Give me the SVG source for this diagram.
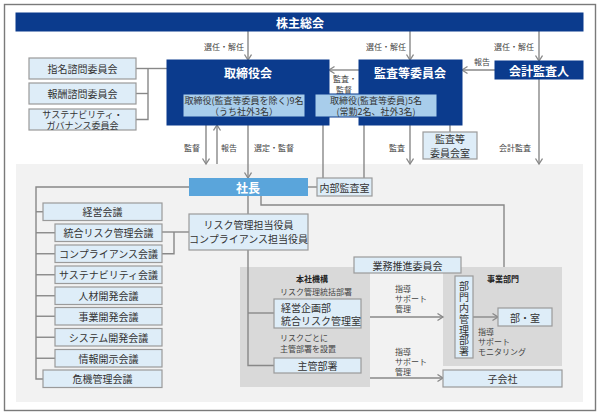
<svg xmlns="http://www.w3.org/2000/svg" width="600" height="415" viewBox="0 0 600 415">
<style>
text{font-family:"Noto Sans CJK JP","Noto Sans",sans-serif;fill:#333;dominant-baseline:central;text-anchor:middle}
.navy{fill:#0b3b8d;stroke:#0b3b8d}
.navyt{fill:#fff;font-weight:bold;font-size:12px}
.inner{fill:#a8cdeb;stroke:#0b3b8d;stroke-width:1}
.lb{fill:#deedf8;stroke:#9a9a9a;stroke-width:1.2}
.t10{font-size:10px}
.t9{font-size:9px}
.lab{font-size:8px;fill:#444}
.ll{text-anchor:start}
.ln{fill:none;stroke:#888;stroke-width:1.4}
.ar{fill:none;stroke:#888;stroke-width:1.4;marker-end:url(#ah)}
.vt{font-size:10px;writing-mode:vertical-rl;text-orientation:upright;dominant-baseline:auto;letter-spacing:0.8px}
</style>
<defs>
<marker id="ah" markerUnits="userSpaceOnUse" markerWidth="10" markerHeight="10" refX="6" refY="4" orient="auto">
<path d="M0.5,0.5 L6,4 L0.5,7.5" fill="none" stroke="#888" stroke-width="1.3"/>
</marker>
</defs>
<rect x="4.5" y="4.5" width="591" height="406" fill="#fff" stroke="#7a7a7a" stroke-width="1.4"/>
<rect x="16" y="164" width="567" height="238" fill="#f2f2f2"/>
<rect id="honsha-region" x="240" y="267" width="130" height="120" fill="#d9d9d9"/>
<rect id="jigyo-region" x="443" y="267" width="119" height="99" fill="#d9d9d9"/>

<g id="connectors">
<line class="ar" x1="248" y1="31" x2="248" y2="60"/>
<line class="ar" x1="410" y1="31" x2="410" y2="60"/>
<line class="ar" x1="539" y1="31" x2="539" y2="61"/>
<text class="lab" x="224" y="46">選任・解任</text>
<text class="lab" x="386" y="46">選任・解任</text>
<text class="lab" x="514" y="46">選任・解任</text>
<line class="ar" x1="495" y1="70" x2="462" y2="70"/>
<text class="lab" x="482" y="61">報告</text>
<line class="ar" x1="359" y1="70" x2="329" y2="70"/>
<text class="lab" x="345" y="78">監査・</text>
<text class="lab" x="344" y="89">監督</text>
<polyline class="ln" points="136,68.5 167,68.5"/>
<polyline class="ln" points="148,68.5 148,119.5 136,119.5"/>
<line class="ln" x1="136" y1="93.5" x2="148" y2="93.5"/>
<line class="ar" x1="206" y1="125" x2="206" y2="164"/>
<line class="ar" x1="217" y1="164" x2="217" y2="125"/>
<line class="ar" x1="248" y1="117" x2="248" y2="178"/>
<text class="lab" x="192" y="147">監督</text>
<text class="lab" x="229" y="147">報告</text>
<text class="lab" x="274" y="147">選定・監督</text>
<line class="ln" x1="323" y1="125" x2="323" y2="178"/>
<line class="ln" x1="364" y1="125" x2="364" y2="178"/>
<line class="ln" x1="308" y1="187" x2="317" y2="187"/>
<line class="ln" x1="450" y1="125" x2="450" y2="132"/>
<line class="ar" x1="410" y1="125" x2="410" y2="164"/>
<text class="lab" x="397" y="147">監査</text>
<line class="ar" x1="539" y1="79" x2="539" y2="164"/>
<text class="lab" x="515" y="147">会計監査</text>
<polyline class="ln" points="261,196 261,205 504,205 504,267"/>
<polyline class="ln" points="189,187 36,187 36,379 43,379"/>
<line class="ln" x1="36" y1="211.75" x2="43" y2="211.75"/>
<line class="ln" x1="36" y1="232.75" x2="55" y2="232.75"/>
<line class="ln" x1="36" y1="253.75" x2="55" y2="253.75"/>
<line class="ln" x1="36" y1="274.75" x2="55" y2="274.75"/>
<line class="ln" x1="36" y1="295.75" x2="55" y2="295.75"/>
<line class="ln" x1="36" y1="316.25" x2="55" y2="316.25"/>
<line class="ln" x1="36" y1="337.25" x2="55" y2="337.25"/>
<line class="ln" x1="36" y1="358.25" x2="55" y2="358.25"/>
<line class="ln" x1="162" y1="232" x2="189" y2="232"/>
<polyline class="ln" points="174,232 174,253.75 162,253.75"/>
<line class="ln" x1="248" y1="196" x2="248" y2="214"/>
<polyline class="ln" points="248,250 248,365.5 274,365.5"/>
<line class="ln" x1="248" y1="313" x2="274" y2="313"/>
<line class="ar" x1="370" y1="317" x2="443" y2="317"/>
<line class="ar" x1="370" y1="378" x2="443" y2="378"/>
<line class="ar" x1="473" y1="317" x2="498" y2="317"/>
<text class="lab ll" x="395" y="288">指導</text>
<text class="lab ll" x="395" y="298">サポート</text>
<text class="lab ll" x="395" y="308">管理</text>
<text class="lab ll" x="395" y="351">指導</text>
<text class="lab ll" x="395" y="361">サポート</text>
<text class="lab ll" x="395" y="371">管理</text>
<text class="lab ll" x="478" y="331">指導</text>
<text class="lab ll" x="478" y="341">サポート</text>
<text class="lab ll" x="478" y="351">モニタリング</text>
</g>

<g id="shareholders">
<rect class="navy" x="16" y="13" width="567" height="18"/>
<text class="navyt" x="300" y="22">株主総会</text>
</g>
<g id="board">
<rect class="navy" x="167" y="60" width="162" height="65"/>
<text class="navyt" x="248" y="72">取締役会</text>
</g>
<g id="audit-committee">
<rect class="navy" x="359" y="60" width="103" height="65"/>
<text class="navyt" x="410" y="72">監査等委員会</text>
</g>
<g id="board-members">
<rect class="inner" x="183" y="94" width="122" height="23"/>
<text class="t9" x="244" y="100">取締役(監査等委員を除く)9名</text>
<text class="t9" x="244" y="111">（うち社外3名）</text>
</g>
<g id="audit-members">
<rect class="inner" x="315" y="94" width="122" height="23"/>
<text class="t9" x="376" y="100">取締役(監査等委員)5名</text>
<text class="t9" x="376" y="111">(常勤2名、社外3名)</text>
</g>
<g id="audit-office">
<rect class="lb" x="423" y="132" width="54" height="27"/>
<text class="t10" x="450" y="138.5">監査等</text>
<text class="t10" x="450" y="152">委員会室</text>
</g>
<g id="accounting-auditor">
<rect class="navy" x="495" y="61" width="88" height="18"/>
<text class="navyt" x="539" y="70">会計監査人</text>
</g>
<g id="nomination">
<rect class="lb" x="29" y="58" width="107" height="21"/>
<text class="t10" x="82.5" y="68.5">指名諮問委員会</text>
</g>
<g id="remuneration">
<rect class="lb" x="29" y="83" width="107" height="21"/>
<text class="t10" x="82.5" y="93.5">報酬諮問委員会</text>
</g>
<g id="sustainability-governance">
<rect class="lb" x="29" y="109" width="107" height="21"/>
<text class="t9" x="82.5" y="114">サステナビリティ・</text>
<text class="t9" x="82.5" y="125">ガバナンス委員会</text>
</g>
<g id="president">
<rect x="189" y="178" width="119" height="18" fill="#5aa5db"/>
<text class="navyt" x="248" y="187">社長</text>
</g>
<g id="internal-audit">
<rect class="lb" x="317" y="178" width="55" height="18"/>
<text class="t10" x="344.5" y="187">内部監査室</text>
</g>
<g id="m1"><rect class="lb" x="43" y="203" width="119" height="17.5"/><text class="t10" x="102.5" y="211.75">経営会議</text></g>
<g id="m2"><rect class="lb" x="55" y="224" width="107" height="17.5"/><text class="t10" x="108.5" y="232.75">統合リスク管理会議</text></g>
<g id="m3"><rect class="lb" x="55" y="245" width="107" height="17.5"/><text class="t10" x="108.5" y="253.75">コンプライアンス会議</text></g>
<g id="m4"><rect class="lb" x="55" y="266" width="107" height="17.5"/><text class="t10" x="108.5" y="274.75">サステナビリティ会議</text></g>
<g id="m5"><rect class="lb" x="55" y="287" width="107" height="17.5"/><text class="t10" x="108.5" y="295.75">人材開発会議</text></g>
<g id="m6"><rect class="lb" x="55" y="307.5" width="107" height="17.5"/><text class="t10" x="108.5" y="316.25">事業開発会議</text></g>
<g id="m7"><rect class="lb" x="55" y="328.5" width="107" height="17.5"/><text class="t10" x="108.5" y="337.25">システム開発会議</text></g>
<g id="m8"><rect class="lb" x="55" y="349.5" width="107" height="17.5"/><text class="t10" x="108.5" y="358.25">情報開示会議</text></g>
<g id="m9"><rect class="lb" x="43" y="370" width="119" height="17.5"/><text class="t10" x="102.5" y="378.75">危機管理会議</text></g>
<g id="risk-officer">
<rect class="lb" x="189" y="214" width="119" height="36"/>
<text class="t10" x="248.5" y="224.5">リスク管理担当役員</text>
<text class="t10" x="248.5" y="238.5">コンプライアンス担当役員</text>
</g>
<g id="business-promotion">
<rect class="lb" x="354" y="257" width="107" height="16"/>
<text class="t10" x="407.5" y="265">業務推進委員会</text>
</g>
<g id="honsha">
<text class="lab" x="312" y="278" font-weight="bold" style="fill:#222">本社機構</text>
<text class="lab ll" x="280" y="291">リスク管理統括部署</text>
<text class="lab ll" x="280" y="337.5">リスクごとに</text>
<text class="lab ll" x="280" y="348.5">主管部署を設置</text>
</g>
<g id="planning">
<rect class="lb" x="274" y="299" width="87" height="29"/>
<text class="t10 ll" x="281" y="307">経営企画部</text>
<text class="t10 ll" x="281" y="320.5">統合リスク管理室</text>
</g>
<g id="main-dept">
<rect class="lb" x="274" y="358" width="87" height="15"/>
<text class="t10" x="317.5" y="365.5">主管部署</text>
</g>
<g id="jigyo">
<text class="lab" x="503" y="278" font-weight="bold" style="fill:#222">事業部門</text>
</g>
<g id="division-mgmt">
<rect class="lb" x="455" y="276" width="18" height="82"/>
<text class="vt" x="464" y="319.5">部門内管理部署</text>
</g>
<g id="dept">
<rect class="lb" x="498" y="308" width="54" height="18"/>
<text class="t10" x="525" y="317">部・室</text>
</g>
<g id="subsidiary">
<rect class="lb" x="443" y="370" width="119" height="17"/>
<text class="t10" x="502.5" y="378.5">子会社</text>
</g>
</svg>
